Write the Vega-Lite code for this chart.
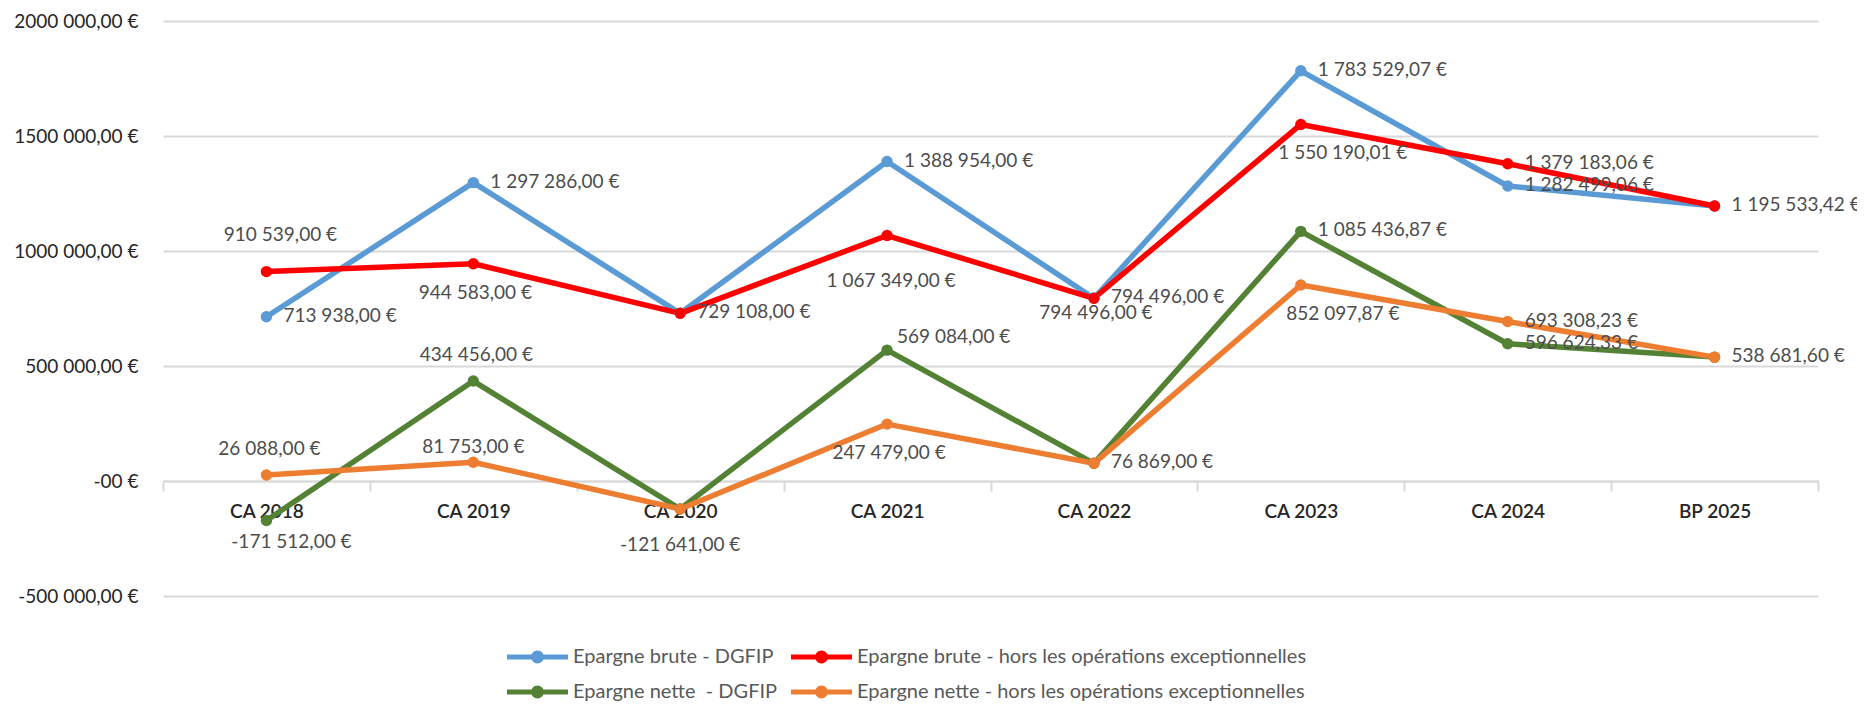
{
  "$schema": "https://vega.github.io/schema/vega-lite/v6.json",
  "autosize": {"type": "none"},
  "width": 1655,
  "height": 575,
  "padding": {"left": 163, "top": 21, "right": 39, "bottom": 114},
  "background": "white",
  "config": {
    "locale": {"number": {"decimal": ",", "thousands": " ", "grouping": [3], "currency": ["", " €"], "minus": "-"}},
    "view": {"stroke": null},
    "font": "Lato"
  },
  "data": {"values": [
    {"serie": "Epargne brute - DGFIP", "annee": "CA 2018", "valeur": 713938.00},
    {"serie": "Epargne brute - DGFIP", "annee": "CA 2019", "valeur": 1297286.00},
    {"serie": "Epargne brute - DGFIP", "annee": "CA 2020", "valeur": 729108.00},
    {"serie": "Epargne brute - DGFIP", "annee": "CA 2021", "valeur": 1388954.00},
    {"serie": "Epargne brute - DGFIP", "annee": "CA 2022", "valeur": 794496.00},
    {"serie": "Epargne brute - DGFIP", "annee": "CA 2023", "valeur": 1783529.07},
    {"serie": "Epargne brute - DGFIP", "annee": "CA 2024", "valeur": 1282499.06},
    {"serie": "Epargne brute - DGFIP", "annee": "BP 2025", "valeur": 1195533.42},
    {"serie": "Epargne brute - hors les opérations exceptionnelles", "annee": "CA 2018", "valeur": 910539.00},
    {"serie": "Epargne brute - hors les opérations exceptionnelles", "annee": "CA 2019", "valeur": 944583.00},
    {"serie": "Epargne brute - hors les opérations exceptionnelles", "annee": "CA 2020", "valeur": 729108.00},
    {"serie": "Epargne brute - hors les opérations exceptionnelles", "annee": "CA 2021", "valeur": 1067349.00},
    {"serie": "Epargne brute - hors les opérations exceptionnelles", "annee": "CA 2022", "valeur": 794496.00},
    {"serie": "Epargne brute - hors les opérations exceptionnelles", "annee": "CA 2023", "valeur": 1550190.01},
    {"serie": "Epargne brute - hors les opérations exceptionnelles", "annee": "CA 2024", "valeur": 1379183.06},
    {"serie": "Epargne brute - hors les opérations exceptionnelles", "annee": "BP 2025", "valeur": 1195533.42},
    {"serie": "Epargne nette\u00a0 - DGFIP", "annee": "CA 2018", "valeur": -171512.00},
    {"serie": "Epargne nette\u00a0 - DGFIP", "annee": "CA 2019", "valeur": 434456.00},
    {"serie": "Epargne nette\u00a0 - DGFIP", "annee": "CA 2020", "valeur": -121641.00},
    {"serie": "Epargne nette\u00a0 - DGFIP", "annee": "CA 2021", "valeur": 569084.00},
    {"serie": "Epargne nette\u00a0 - DGFIP", "annee": "CA 2022", "valeur": 76869.00},
    {"serie": "Epargne nette\u00a0 - DGFIP", "annee": "CA 2023", "valeur": 1085436.87},
    {"serie": "Epargne nette\u00a0 - DGFIP", "annee": "CA 2024", "valeur": 596624.33},
    {"serie": "Epargne nette\u00a0 - DGFIP", "annee": "BP 2025", "valeur": 538681.60},
    {"serie": "Epargne nette - hors les opérations exceptionnelles", "annee": "CA 2018", "valeur": 26088.00},
    {"serie": "Epargne nette - hors les opérations exceptionnelles", "annee": "CA 2019", "valeur": 81753.00},
    {"serie": "Epargne nette - hors les opérations exceptionnelles", "annee": "CA 2020", "valeur": -121641.00},
    {"serie": "Epargne nette - hors les opérations exceptionnelles", "annee": "CA 2021", "valeur": 247479.00},
    {"serie": "Epargne nette - hors les opérations exceptionnelles", "annee": "CA 2022", "valeur": 76869.00},
    {"serie": "Epargne nette - hors les opérations exceptionnelles", "annee": "CA 2023", "valeur": 852097.87},
    {"serie": "Epargne nette - hors les opérations exceptionnelles", "annee": "CA 2024", "valeur": 693308.23},
    {"serie": "Epargne nette - hors les opérations exceptionnelles", "annee": "BP 2025", "valeur": 538681.60}
  ]},
  "encoding": {
    "x": {
      "field": "annee", "type": "nominal", "bandPosition": 0.5,
      "scale": {"type": "band", "domain": ["CA 2018", "CA 2019", "CA 2020", "CA 2021", "CA 2022", "CA 2023", "CA 2024", "BP 2025"], "paddingInner": 0, "paddingOuter": 0},
      "axis": {
        "title": null, "orient": "bottom", "offset": -115, "labelAngle": 0,
        "domainColor": "#d9d9d9", "domainWidth": 2,
        "ticks": true, "tickBand": "extent", "tickSize": 10, "tickColor": "#d9d9d9", "tickWidth": 2,
        "labelFont": "Lato", "labelFontSize": 19, "labelFontWeight": 600, "labelColor": "#262626",
        "labelBaseline": "middle", "labelPadding": 20, "grid": false
      }
    },
    "y": {
      "field": "valeur", "type": "quantitative",
      "scale": {"domain": [-500000, 2000000], "nice": false, "zero": false},
      "axis": {
        "title": null, "values": [-500000, 0, 500000, 1000000, 1500000, 2000000],
        "domain": false, "ticks": false, "labelPadding": 25,
        "grid": true, "gridColor": "#d9d9d9", "gridWidth": 2,
        "labelFont": "Lato", "labelFontSize": 19, "labelColor": "#262626", "labelBaseline": "middle",
        "labelExpr": "datum.value == 0 ? '-00 €' : (abs(datum.value) >= 1000000 ? replace(format(datum.value, '$,.2f'), ' ', '') : format(datum.value, '$,.2f'))"
      }
    }
  },
  "layer": [
    {
      "mark": {"type": "line", "strokeWidth": 5.5, "strokeJoin": "round", "strokeCap": "round", "point": {"filled": true, "size": 130, "opacity": 1}},
      "encoding": {
        "color": {
          "field": "serie", "type": "nominal",
          "scale": {
            "domain": ["Epargne brute - DGFIP", "Epargne brute - hors les opérations exceptionnelles", "Epargne nette\u00a0 - DGFIP", "Epargne nette - hors les opérations exceptionnelles"],
            "range": ["#5B9BD5", "#FF0000", "#548235", "#ED7D31"]
          },
          "legend": {
            "title": null, "orient": "none", "legendX": 344, "legendY": 624, "columns": 2, "direction": "horizontal",
            "symbolType": "M-1,-0.085 L1,-0.085 L1,0.085 L-1,0.085 Z M0.21,0 A0.21,0.21 0 1,1 -0.21,0 A0.21,0.21 0 1,1 0.21,0 Z",
            "symbolSize": 3721, "symbolStrokeWidth": 0, "clipHeight": 24,
            "labelFont": "Lato", "labelFontSize": 20, "labelColor": "#595959", "labelOffset": 5, "labelLimit": 700,
            "columnPadding": 13, "rowPadding": 11, "padding": 0, "gridAlign": "each",
            "encode": {"symbols": {"update": {"fill": {"scale": "color", "field": "value"}, "stroke": {"value": "transparent"}, "opacity": {"value": 1}}}}
          }
        },
        "detail": {"field": "serie"}
      }
    },
    {
      "transform": [{"filter": "datum.serie === 'Epargne brute - DGFIP' || (datum.serie === 'Epargne brute - hors les opérations exceptionnelles' && datum.annee === 'CA 2024') || (datum.serie === 'Epargne nette\u00a0 - DGFIP' && indexof(['CA 2023','CA 2024','BP 2025'], datum.annee) >= 0) || (datum.serie === 'Epargne nette - hors les opérations exceptionnelles' && indexof(['CA 2022','CA 2024'], datum.annee) >= 0)"}],
      "mark": {"type": "text", "font": "Lato", "fontSize": 19, "color": "#4d4d4d", "align": "left", "baseline": "middle", "dx": 17, "dy": -1},
      "encoding": {"text": {"field": "valeur", "type": "quantitative", "format": "$,.2f"}}
    },
    {
      "transform": [{"filter": "datum.serie === 'Epargne nette\u00a0 - DGFIP' && datum.annee === 'CA 2021'"}],
      "mark": {"type": "text", "font": "Lato", "fontSize": 19, "color": "#4d4d4d", "align": "left", "baseline": "middle", "dx": 10, "dy": -13},
      "encoding": {"text": {"field": "valeur", "type": "quantitative", "format": "$,.2f"}}
    },
    {
      "transform": [{"filter": "datum.serie === 'Epargne brute - hors les opérations exceptionnelles' && datum.annee === 'CA 2018'"}],
      "mark": {"type": "text", "font": "Lato", "fontSize": 19, "color": "#4d4d4d", "align": "center", "baseline": "middle", "dx": 14, "dy": -37},
      "encoding": {"text": {"field": "valeur", "type": "quantitative", "format": "$,.2f"}}
    },
    {
      "transform": [{"filter": "(datum.serie === 'Epargne nette - hors les opérations exceptionnelles' && datum.annee === 'CA 2018') || (datum.serie === 'Epargne nette\u00a0 - DGFIP' && datum.annee === 'CA 2019')"}],
      "mark": {"type": "text", "font": "Lato", "fontSize": 19, "color": "#4d4d4d", "align": "center", "baseline": "middle", "dx": 3, "dy": -26},
      "encoding": {"text": {"field": "valeur", "type": "quantitative", "format": "$,.2f"}}
    },
    {
      "transform": [{"filter": "datum.serie === 'Epargne nette - hors les opérations exceptionnelles' && datum.annee === 'CA 2019'"}],
      "mark": {"type": "text", "font": "Lato", "fontSize": 19, "color": "#4d4d4d", "align": "center", "baseline": "middle", "dx": 0, "dy": -15},
      "encoding": {"text": {"field": "valeur", "type": "quantitative", "format": "$,.2f"}}
    },
    {
      "transform": [{"filter": "(datum.serie === 'Epargne brute - hors les opérations exceptionnelles' && datum.annee === 'CA 2019') || (datum.serie === 'Epargne nette - hors les opérations exceptionnelles' && datum.annee === 'CA 2021')"}],
      "mark": {"type": "text", "font": "Lato", "fontSize": 19, "color": "#4d4d4d", "align": "center", "baseline": "middle", "dx": 2, "dy": 29},
      "encoding": {"text": {"field": "valeur", "type": "quantitative", "format": "$,.2f"}}
    },
    {
      "transform": [{"filter": "datum.annee === 'CA 2023' && (datum.serie === 'Epargne brute - hors les opérations exceptionnelles' || datum.serie === 'Epargne nette - hors les opérations exceptionnelles')"}],
      "mark": {"type": "text", "font": "Lato", "fontSize": 19, "color": "#4d4d4d", "align": "center", "baseline": "middle", "dx": 42, "dy": 29},
      "encoding": {"text": {"field": "valeur", "type": "quantitative", "format": "$,.2f"}}
    },
    {
      "transform": [{"filter": "datum.serie === 'Epargne nette\u00a0 - DGFIP' && datum.annee === 'CA 2018'"}],
      "mark": {"type": "text", "font": "Lato", "fontSize": 19, "color": "#4d4d4d", "align": "center", "baseline": "middle", "dx": 25, "dy": 22},
      "encoding": {"text": {"field": "valeur", "type": "quantitative", "format": "$,.2f"}}
    },
    {
      "transform": [{"filter": "datum.serie === 'Epargne nette\u00a0 - DGFIP' && datum.annee === 'CA 2020'"}],
      "mark": {"type": "text", "font": "Lato", "fontSize": 19, "color": "#4d4d4d", "align": "center", "baseline": "middle", "dx": 0, "dy": 36},
      "encoding": {"text": {"field": "valeur", "type": "quantitative", "format": "$,.2f"}}
    },
    {
      "transform": [{"filter": "datum.serie === 'Epargne brute - hors les opérations exceptionnelles' && datum.annee === 'CA 2021'"}],
      "mark": {"type": "text", "font": "Lato", "fontSize": 19, "color": "#4d4d4d", "align": "center", "baseline": "middle", "dx": 4, "dy": 45},
      "encoding": {"text": {"field": "valeur", "type": "quantitative", "format": "$,.2f"}}
    },
    {
      "transform": [{"filter": "datum.serie === 'Epargne brute - hors les opérations exceptionnelles' && datum.annee === 'CA 2022'"}],
      "mark": {"type": "text", "font": "Lato", "fontSize": 19, "color": "#4d4d4d", "align": "center", "baseline": "middle", "dx": 2, "dy": 15},
      "encoding": {"text": {"field": "valeur", "type": "quantitative", "format": "$,.2f"}}
    }
  ]
}
